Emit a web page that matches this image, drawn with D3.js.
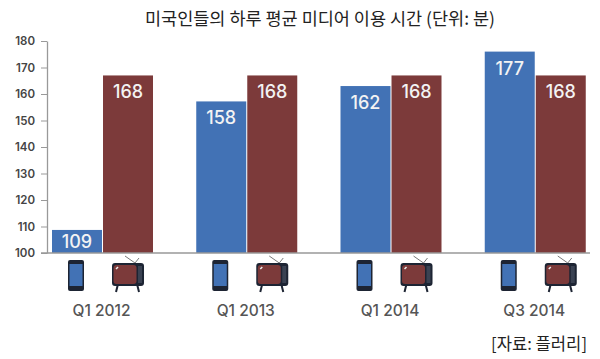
<!DOCTYPE html>
<html>
<head>
<meta charset="utf-8">
<script src="https://cdn.jsdelivr.net/npm/d3@7"></script>
<style>
html, body { margin: 0; padding: 0; background: #fff; }
text { font-family: Inter, Lato, sans-serif; }
.kr { font-family: "Noto Sans CJK KR", sans-serif; fill: #222; }
</style>
</head>
<body>
<div id="chart"></div>
<script>
var quarters = ["Q1 2012", "Q1 2013", "Q1 2014", "Q3 2014"];
// bar heights; the printed labels differ slightly in the original
var mobileHeights = [108.7, 157.2, 163, 176];
var tvHeights = [167, 167, 167, 167];
var mobileLabels = ["109", "158", "162", "177"];
var tvLabels = ["168", "168", "168", "168"];
var yTicks = [100, 110, 120, 130, 140, 150, 160, 170, 180];

var width = 600, height = 359;
var blue = "#4272b5", brown = "#7c3a3a", axisColor = "#999";

var svg = d3.select("#chart").append("svg")
    .attr("width", width)
    .attr("height", height)
    .style("display", "block");

var y = d3.scaleLinear().domain([100, 180]).range([253, 41]);
var x0 = d3.scaleBand().domain(quarters).range([52, 585 + 44]).paddingInner(0).paddingOuter(0);
var groupWidth = 101;
var x1 = d3.scaleBand().domain(["mobile", "tv"]).range([0, groupWidth]).paddingInner(0.02);

// Title and source
svg.append("text").attr("class", "kr")
    .attr("x", 320).attr("y", 25)
    .attr("text-anchor", "middle")
    .style("font-size", "17.5px")
    .text("미국인들의 하루 평균 미디어 이용 시간 (단위: 분)");

svg.append("text").attr("class", "kr")
    .attr("x", 587).attr("y", 350)
    .attr("text-anchor", "end")
    .style("font-size", "16.6px")
    .text("[자료: 플러리]");

// Bars
var groups = svg.selectAll(".quarter")
    .data(quarters)
    .enter()
    .append("g")
    .attr("class", "quarter")
    .attr("transform", function(d) { return "translate(" + x0(d) + ",0)"; });

groups.append("rect")
    .attr("x", x1("mobile"))
    .attr("width", x1.bandwidth())
    .attr("y", function(d, i) { return y(mobileHeights[i]); })
    .attr("height", function(d, i) { return y(100) - y(mobileHeights[i]); })
    .style("fill", blue);

groups.append("rect")
    .attr("x", x1("tv"))
    .attr("width", x1.bandwidth())
    .attr("y", function(d, i) { return y(tvHeights[i]); })
    .attr("height", function(d, i) { return y(100) - y(tvHeights[i]); })
    .style("fill", brown);

// Bar labels, kept inside the bar when it is short
groups.append("text")
    .attr("x", x1("mobile") + x1.bandwidth() / 2)
    .attr("y", function(d, i) { return Math.min(y(mobileHeights[i]) + 23, 247.5); })
    .attr("text-anchor", "middle")
    .style("fill", "#f3f3f3")
    .style("font-size", "18px")
    .style("font-weight", 500)
    .text(function(d, i) { return mobileLabels[i]; });

groups.append("text")
    .attr("x", x1("tv") + x1.bandwidth() / 2)
    .attr("y", function(d, i) { return y(tvHeights[i]) + 23; })
    .attr("text-anchor", "middle")
    .style("fill", "#f3f3f3")
    .style("font-size", "18px")
    .style("font-weight", 500)
    .text(function(d, i) { return tvLabels[i]; });

// Quarter labels
groups.append("text")
    .attr("x", groupWidth / 2 - 1)
    .attr("y", 316)
    .attr("text-anchor", "middle")
    .style("fill", "#555")
    .style("font-size", "15.5px")
    .style("font-weight", 500)
    .text(function(d) { return d; });

// Phone icon
var phone = groups.append("g")
    .attr("transform", "translate(" + (x1("mobile") + 16) + ",260)");
phone.append("rect").attr("width", 16).attr("height", 31).attr("rx", 2).style("fill", "#1d2433");
phone.append("rect").attr("x", 1.5).attr("y", 4).attr("width", 13).attr("height", 22).style("fill", blue);

// TV icon
var tv = groups.append("g")
    .attr("transform", "translate(" + (x1("tv") + 9) + ",258)");
tv.append("path").attr("d", "M23,5 L13,-2 M23,5 L27,0")
    .style("stroke", "#777").style("stroke-width", 1).style("fill", "none");
tv.append("path").attr("d", "M6,26 L4,34 M25,26 L27,34")
    .style("stroke", "#1d2433").style("stroke-width", 2).style("fill", "none");
tv.append("rect").attr("y", 5).attr("width", 32).attr("height", 23).attr("rx", 3).style("fill", "#1d2433");
tv.append("rect").attr("x", 1.5).attr("y", 7).attr("width", 23).attr("height", 19).attr("rx", 3).style("fill", brown);
tv.append("rect").attr("x", 26).attr("y", 8).attr("width", 4).attr("height", 17).style("fill", "#3a4252");
tv.append("path").attr("d", "M4,11 L6,9").style("stroke", "#eee").style("stroke-width", 1.5);

// Y axis
var yAxis = svg.append("g")
    .attr("transform", "translate(47,0)")
    .call(d3.axisLeft(y).tickValues(yTicks).tickSize(6).tickSizeOuter(0).tickPadding(6).tickFormat(d3.format("d")));
yAxis.selectAll("path, line").style("stroke", axisColor).style("stroke-width", 1);
yAxis.select("path").style("stroke-width", 1.3);
yAxis.selectAll("text")
    .style("font-family", "Inter, Lato, sans-serif")
    .style("font-size", "11.5px")
    .style("font-weight", 600)
    .style("fill", "#444");

// Baseline
svg.append("line")
    .attr("x1", 41).attr("x2", 590)
    .attr("y1", y(100)).attr("y2", y(100))
    .style("stroke", axisColor)
    .style("stroke-width", 1.5);
</script>
</body>
</html>
